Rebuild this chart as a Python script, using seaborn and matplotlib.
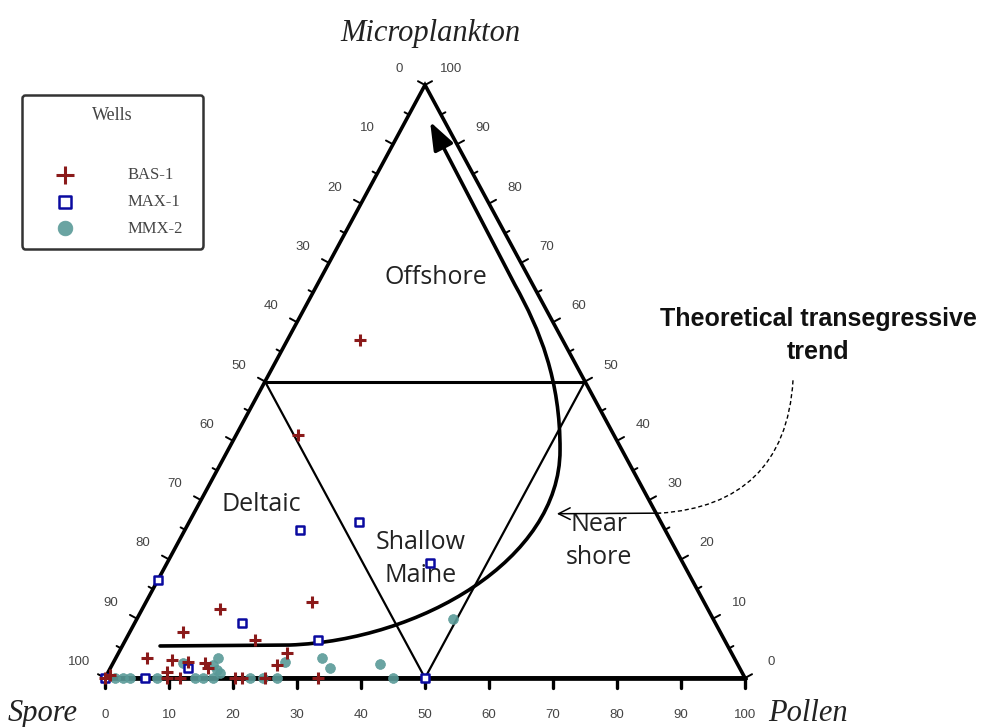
import numpy as np
import pandas as pd
import matplotlib
matplotlib.use("Agg")
import matplotlib.pyplot as plt
import seaborn as sns
from matplotlib.path import Path
from matplotlib.patches import PathPatch, FancyArrowPatch

sns.set_theme(style="white")
plt.rcParams["font.family"] = ["Liberation Sans", "DejaVu Sans"]

# ---------------- data (ternary %: pollen, microplankton; spore = rest) -------------
wells = ["BAS-1", "MAX-1", "MMX-2"]

bas1_pollen = [11.3, 9.7, 12.2, 25.9, 8.3, 20.2, 4.9, 9.0, 11.6, 14.4, 15.2, 9.2,
               26.3, 25.8, 0.5, 11.7, 20.3, 21.4, 25.0, 33.3, 0.0, 9.7]
bas1_micro = [57.0, 41.0, 11.6, 12.8, 7.8, 6.4, 3.4, 3.0, 2.7, 2.5, 1.7, 1.0,
              4.2, 2.2, 0.5, 0.0, 0.0, 0.0, 0.0, 0.0, 0.0, 0.0]

max1_pollen = [18.0, 26.5, 41.1, 30.1, 16.8, 12.1, 0.0, 6.3, 50.0, 0.0]
max1_micro = [25.0, 26.3, 19.4, 6.4, 9.3, 1.7, 16.5, 0.0, 0.0, 0.0]

mmx2_pollen = [49.4, 32.2, 34.3, 41.8, 45.0, 26.8, 26.9, 10.9, 16.0, 15.8, 16.8, 17.6,
               1.6, 2.8, 3.9, 8.1, 14.1, 15.3, 16.9, 22.7, 24.7]
mmx2_micro = [10.0, 3.4, 1.7, 2.4, 0.0, 2.7, 0.0, 2.5, 3.4, 2.2, 1.35, 0.8,
              0.0, 0.0, 0.0, 0.0, 0.0, 0.0, 0.0, 0.0, 0.0]

tick_values = list(range(0, 101, 10))

# zone boundaries (pollen, micro)
zone_h_pollen = [0, 50]
zone_h_micro = [50, 50]
zone_d1_pollen = [0, 50]
zone_d1_micro = [50, 0]
zone_d2_pollen = [50, 50]
zone_d2_micro = [50, 0]

# theoretical trend curve control points (pollen, micro)
trend_pollen = [5.9, 26.1, 46.0, 61.1, 51.9, 46.0, 38.6, 30.9, 3.9]
trend_micro = [5.4, 5.56, 6.41, 19.9, 38.4, 50.3, 58.7, 66.3, 93.8]

zones = ["Offshore", "Deltaic", "Shallow\nMaine", "Near\nshore"]
zone_pollen = [17.9, 9.9, 39.3, 65.6]
zone_micro = [67.6, 29.2, 20.1, 23.1]


def cart(p, m):
    p = np.asarray(p, float)
    m = np.asarray(m, float)
    return p + m / 2.0, m


PXX, PXY = 6.4, 5.93  # pixels per data unit

fig = plt.figure(figsize=(9.87, 7.27), dpi=100)
ax = fig.add_axes([0, 0, 1, 1])
ax.set_xlim(-105 / PXX, (987 - 105) / PXX)
ax.set_ylim(-49 / PXY, (727 - 49) / PXY)
ax.axis("off")

# triangle
tx, ty = cart([0, 100, 0, 0], [0, 0, 100, 0])
ax.plot(tx, ty, color="black", lw=2.6, solid_joinstyle="miter", zorder=2)
ax.plot(*cart([0, 100], [0, 0]), color="black", lw=3.4, zorder=2)

# zone lines
hx, hy = cart(zone_h_pollen, zone_h_micro)
ax.plot(hx, hy, color="black", lw=2.2, zorder=2)
ax.plot(*cart(zone_d1_pollen, zone_d1_micro), color="black", lw=1.6, zorder=2)
ax.plot(*cart(zone_d2_pollen, zone_d2_micro), color="black", lw=1.6, zorder=2)

# ticks
lab_kw = dict(textcoords="offset points", ha="center", va="center",
              fontsize=9.5, color="#444444", family="Liberation Sans")
for v in range(0, 101, 5):
    L = 8 if v % 10 == 0 else 5
    x0, y0 = cart(0, 100 - v)
    ax.plot([x0, x0 - 0.88 * L / PXX], [y0, y0 + 0.475 * L / PXY], color="black", lw=1.4)
    x1, y1 = cart(100 - v, v)
    ax.plot([x1, x1 + 0.88 * L / PXX], [y1, y1 + 0.475 * L / PXY], color="black", lw=1.4)
    if v % 10 == 0:
        x2, y2 = cart(v, 0)
        ax.plot([x2, x2], [y2, y2 - 10 / PXY], color="black", lw=2.4)
for v in tick_values:
    ax.annotate(str(v), cart(0, 100 - v), xytext=(-18.7, 11.5), **lab_kw)
    ax.annotate(str(v), cart(100 - v, v), xytext=(18.7, 11.5), **lab_kw)
    ax.annotate(str(v), cart(v, 0), xytext=(0, -26.6), **lab_kw)

# trend curve
tpx, tpy = cart(trend_pollen, trend_micro)
verts = list(zip(tpx, tpy))
codes = [Path.MOVETO, Path.LINETO, Path.CURVE4, Path.CURVE4, Path.CURVE4,
         Path.CURVE4, Path.CURVE4, Path.CURVE4, Path.LINETO]
trend = FancyArrowPatch(path=Path(verts, codes),
                        arrowstyle="-|>,head_length=0.85,head_width=0.32",
                        mutation_scale=20, lw=2.6, color="black", zorder=3)
ax.add_patch(trend)

# data points
df = pd.concat([
    pd.DataFrame({"Pollen": bas1_pollen, "Micro": bas1_micro, "Well": "BAS-1"}),
    pd.DataFrame({"Pollen": max1_pollen, "Micro": max1_micro, "Well": "MAX-1"}),
    pd.DataFrame({"Pollen": mmx2_pollen, "Micro": mmx2_micro, "Well": "MMX-2"}),
], ignore_index=True)
df["x"], df["y"] = cart(df["Pollen"], df["Micro"])

sns.scatterplot(data=df[df.Well == "MMX-2"], x="x", y="y", marker="o", s=50,
                color="#5a9a98", edgecolor="#5a9a98", linewidth=0.5, alpha=0.9,
                ax=ax, label="MMX-2", zorder=4)
sns.scatterplot(data=df[df.Well == "MAX-1"], x="x", y="y", marker="s", s=38,
                facecolor="white", edgecolor="#0a0aa0", linewidth=1.8,
                ax=ax, label="MAX-1", zorder=5)
sns.scatterplot(data=df[df.Well == "BAS-1"], x="x", y="y", marker="+", s=70,
                color="#8b1a1a", linewidth=2.2, ax=ax, label="BAS-1", zorder=6)

handles, labels = ax.get_legend_handles_labels()
order = [labels.index(w) for w in wells]
leg = ax.legend([handles[i] for i in order], [labels[i] for i in order],
                title="Wells\n\n", loc="upper left",
                bbox_to_anchor=(22 / 987, 1 - 255 / 727, 181 / 987, 160 / 727),
                mode="expand", frameon=True, fancybox=True, edgecolor="black",
                facecolor="white", prop=dict(family="Liberation Serif", size=12),
                markerscale=1.5, handlelength=3.75, handletextpad=1.9,
                labelspacing=0.65, borderpad=0.7, borderaxespad=0)
leg.get_title().set_fontfamily("Liberation Serif")
leg.get_title().set_fontsize(13)
leg.get_title().set_linespacing(0.95)
leg.get_title().set_color("#444444")
leg.get_frame().set_linewidth(1.8)
for t in leg.get_texts():
    t.set_color("#444444")

# region labels
for name, p, m in zip(zones, zone_pollen, zone_micro):
    xx, yy = cart(p, m)
    ax.text(xx, yy, name, ha="center", va="center", fontsize=18, family="Open Sans",
            color="#222222", linespacing=1.45)

# vertex titles
title_kw = dict(textcoords="offset points", va="center", fontsize=22,
                family="Liberation Serif", style="italic", color="#222222")
ax.annotate("Microplankton", cart(0, 100), xytext=(4, 37), ha="center", **title_kw)
ax.annotate("Spore", cart(0, 0), xytext=(-20, -25.5), ha="right", **title_kw)
ax.annotate("Pollen", cart(100, 0), xytext=(16.5, -25.5), ha="left", **title_kw)

# annotation of trend
ax.text(111.4, 57.8, "Theoretical transegressive\ntrend", ha="center", va="center",
        fontsize=18, fontweight="bold", family="Liberation Sans", linespacing=1.45,
        color="#111111")
conn = Path([(107.5, 50.2), (106.7, 35.9), (99.2, 28.7), (86.7, 27.8)],
            [Path.MOVETO, Path.CURVE4, Path.CURVE4, Path.CURVE4])
ax.add_patch(PathPatch(conn, fill=False, lw=1.0, ls=(0, (3, 2)), color="black"))
ax.annotate("", xy=(70.6, 27.7), xytext=(86.7, 27.8),
            arrowprops=dict(arrowstyle="->,head_length=0.6,head_width=0.3", lw=1.1,
                            color="black", mutation_scale=14, shrinkA=0, shrinkB=0))

fig.savefig("out.png", dpi=100, facecolor="white")
